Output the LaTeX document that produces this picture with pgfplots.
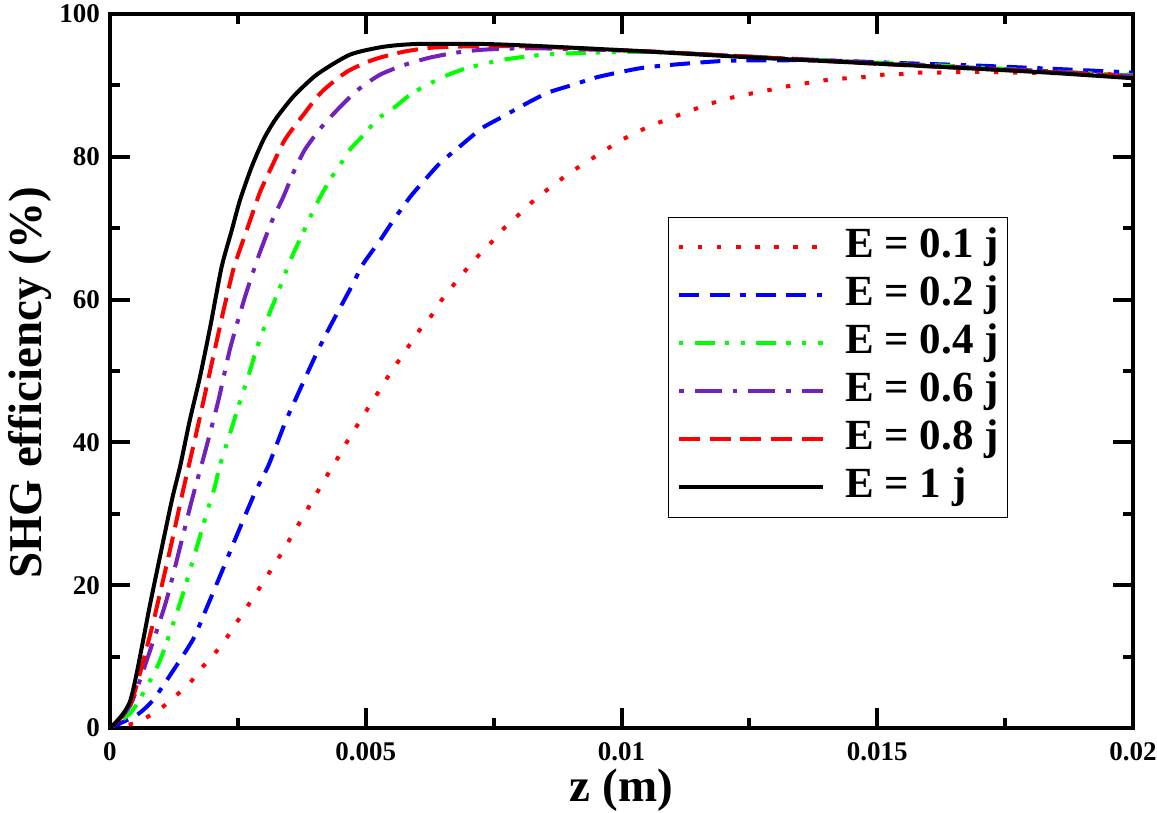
\documentclass[border=0pt]{standalone}
\usepackage{fontspec}
\setmainfont{Liberation Serif}
\usepackage{pgfplots}
\pgfplotsset{compat=1.18}
\definecolor{gred}{RGB}{255,0,0}
\definecolor{gblue}{RGB}{0,0,255}
\definecolor{ggreen}{RGB}{0,255,0}
\definecolor{gindigo}{RGB}{114,33,188}
\begin{document}
\begin{tikzpicture}
\begin{axis}[
  scale only axis, width=511.5pt, height=357pt,
  xmin=0, xmax=0.02, ymin=0, ymax=100,
  scaled x ticks=false, scaled y ticks=false,
  xtick={0,0.005,0.01,0.015,0.02}, xticklabels={0,0.005,0.01,0.015,0.02},
  minor xtick={0.0025,0.0075,0.0125,0.0175},
  ytick={0,20,40,60,80,100}, yticklabels={0,20,40,60,80,100},
  minor ytick={10,30,50,70,90},
  axis line style={line width=2pt},
  every tick/.style={black, line width=2pt},
  major tick length=10pt, minor tick length=5pt,
  tick align=inside,
  tick label style={font=\fontsize{13.5}{14}\selectfont\bfseries},
  xticklabel style={yshift=-3.5pt},
  yticklabel style={xshift=-1.5pt},
  xlabel={z (m)}, ylabel={SHG efficiency (\%)},
  label style={font=\fontsize{23.5}{26}\selectfont\bfseries},
  xlabel style={at={(axis description cs:0.5,-0.087)}, anchor=center},
  ylabel style={at={(axis description cs:-0.078,0.483)}, anchor=center},
  legend style={at={(axis description cs:0.878,0.716)}, anchor=north east,
    draw=black, line width=0.6pt, inner xsep=4.5pt, inner ysep=3pt,
    font=\fontsize{21.5}{24}\selectfont\bfseries,
    cells={anchor=west},
    nodes={inner xsep=0pt, inner ysep=1.5pt, text height=15.5pt, text depth=5.5pt},
    /tikz/every odd column/.append style={column sep=10pt}},
  legend image code/.code={\draw[#1] (0pt,0pt) -- (72pt,0pt);},
  every axis plot/.append style={line width=2pt, smooth, tension=0.4},
]
\addplot[gred, dash pattern=on 2.2pt off 7.3pt] coordinates {
(0,0) (0.00039,0.5) (0.00072,1.5) (0.00104,3.0) (0.0013,4.6) (0.00156,6.3) (0.00179,8.4)
(0.00202,10.2) (0.00225,12.3) (0.00244,14.4) (0.00264,16.5) (0.00283,18.6) (0.00303,20.8)
(0.00323,23.1) (0.00342,25.2) (0.00358,27.3) (0.00378,29.6) (0.00396,31.9) (0.00415,34.2)
(0.00433,36.4) (0.00452,38.6) (0.00469,40.8) (0.00489,43) (0.00507,45.1) (0.00527,47.3)
(0.00546,49.5) (0.00566,51.6) (0.00587,53.8) (0.00606,55.8) (0.00629,57.8) (0.00648,59.9)
(0.00671,62) (0.00694,64) (0.00717,65.9) (0.00743,67.8) (0.00766,69.7) (0.00792,71.4)
(0.00818,73.2) (0.00846,74.9) (0.0090,77.8) (0.0095,80.1) (0.00994,82.1) (0.01026,83.3)
(0.01059,84.4) (0.01092,85.3) (0.01125,86.2) (0.0116,87.1) (0.01195,87.9) (0.01228,88.5)
(0.01264,89.0) (0.01299,89.5) (0.01334,90.0) (0.0137,90.4) (0.01406,90.8) (0.0144,91.0)
(0.01476,91.2) (0.01512,91.5) (0.01548,91.6) (0.01584,91.8) (0.0162,91.8) (0.0169,91.9)
(0.0176,91.8) (0.0185,91.7) (0.02,91.5)
};
\addlegendentry{E = 0.1 j}
\addplot[gblue, dash pattern=on 10pt off 5.3pt on 10pt off 5.3pt on 2.7pt off 5pt] coordinates {
(0,0) (0.00052,1.8) (0.00084,3.9) (0.00124,8.1) (0.00163,12.5) (0.0019,17) (0.00221,22.3)
(0.00248,27) (0.00283,32.9) (0.0031,36.8) (0.00342,42.7) (0.00365,46.4) (0.00404,52.5)
(0.0043,56.2) (0.00472,61.8) (0.00495,65.0) (0.00528,68.3) (0.00554,71.1) (0.00587,74.4)
(0.00616,76.8) (0.00645,79.1) (0.00688,81.7) (0.00727,84) (0.00762,85.4) (0.00815,87.5)
(0.00857,89) (0.00906,90.1) (0.00955,91.2) (0.01036,92.4) (0.01101,92.9) (0.01193,93.4)
(0.01264,93.5) (0.01394,93.5) (0.01558,93.1) (0.01687,92.8) (0.0185,92.3) (0.02,91.8)
};
\addlegendentry{E = 0.2 j}
\addplot[ggreen, dash pattern=on 2pt off 5.8pt on 10pt off 5pt on 2.2pt off 5.8pt] coordinates {
(0,0) (0.0004,2.1) (0.00065,4.9) (0.00098,9.5) (0.00137,17.5) (0.0017,25.4) (0.00192,30.8)
(0.00205,33.8) (0.00215,36.8) (0.00238,42) (0.00251,45) (0.00274,50.1) (0.00287,53.2)
(0.00313,58.3) (0.00329,61.1) (0.00352,65.4) (0.00375,69) (0.00401,73) (0.0043,76.8)
(0.00446,78.4) (0.00469,81) (0.00502,83.5) (0.00521,85.2) (0.00554,86.8) (0.00593,89)
(0.00652,91.2) (0.00697,92.4) (0.00769,93.6) (0.00847,94.3) (0.00906,94.5) (0.0104,94.7)
(0.0123,94.1) (0.0143,93.4) (0.0162,92.8) (0.0183,92.0) (0.02,91.4)
};
\addlegendentry{E = 0.4 j}
\addplot[gindigo, dash pattern=on 2.4pt off 5.4pt on 13.6pt off 5.3pt] coordinates {
(0,0) (0.0004,3.2) (0.0008,11.2) (0.0011,17.8) (0.00133,24.2) (0.0016,31.9) (0.00186,38.7)
(0.00212,45.9) (0.00235,53.2) (0.00264,60.4) (0.0029,66) (0.00316,70.9) (0.00339,74.4)
(0.00358,77.7) (0.00381,81) (0.00414,84.2) (0.0045,87) (0.00485,89.4) (0.00528,91.5)
(0.00577,92.9) (0.00626,93.9) (0.00678,94.6) (0.0073,95) (0.00827,95.2) (0.0104,94.8)
(0.0123,94.1) (0.0143,93.4) (0.0162,92.7) (0.0183,92.0) (0.02,91.3)
};
\addlegendentry{E = 0.6 j}
\addplot[gred, dash pattern=on 10.5pt off 4.8pt] coordinates {
(0,0) (0.0004,3.3) (0.0008,13.5) (0.0012,25.8) (0.00143,33.3) (0.0017,41.7) (0.00196,50.1)
(0.00222,58.5) (0.00241,64.2) (0.00251,66.4) (0.00274,71.1) (0.00293,75.0) (0.00316,78.6)
(0.00342,82.4) (0.00375,85.6) (0.00414,89.1) (0.00463,91.9) (0.00515,93.6) (0.00573,94.7)
(0.00632,95.3) (0.0073,95.5) (0.0084,95.4) (0.0104,94.8) (0.0123,94.1) (0.0143,93.3)
(0.0162,92.6) (0.0183,91.9) (0.02,91.2)
};
\addlegendentry{E = 0.8 j}
\addplot[black] coordinates {
(0,0) (0.0004,3.9) (0.0008,17.9) (0.0012,31.6) (0.00137,36.6) (0.00156,43.1) (0.00176,49.2)
(0.00196,56.2) (0.00218,64.5) (0.00238,69.7) (0.00254,73.9) (0.00277,78.6) (0.0030,82.4)
(0.00323,85.2) (0.00358,88.4) (0.00404,91.5) (0.00469,94.3) (0.00534,95.4) (0.0060,95.8)
(0.0073,95.8) (0.0084,95.5) (0.01036,94.8) (0.01232,94.0) (0.01427,93.3) (0.01623,92.6)
(0.01831,91.8) (0.02,91.0)
};
\addlegendentry{E = 1 j}
\end{axis}
\pgfresetboundingbox
\path[use as bounding box] (-55pt,-42.5pt) rectangle (523.5pt,364pt);
\end{tikzpicture}
\end{document}
